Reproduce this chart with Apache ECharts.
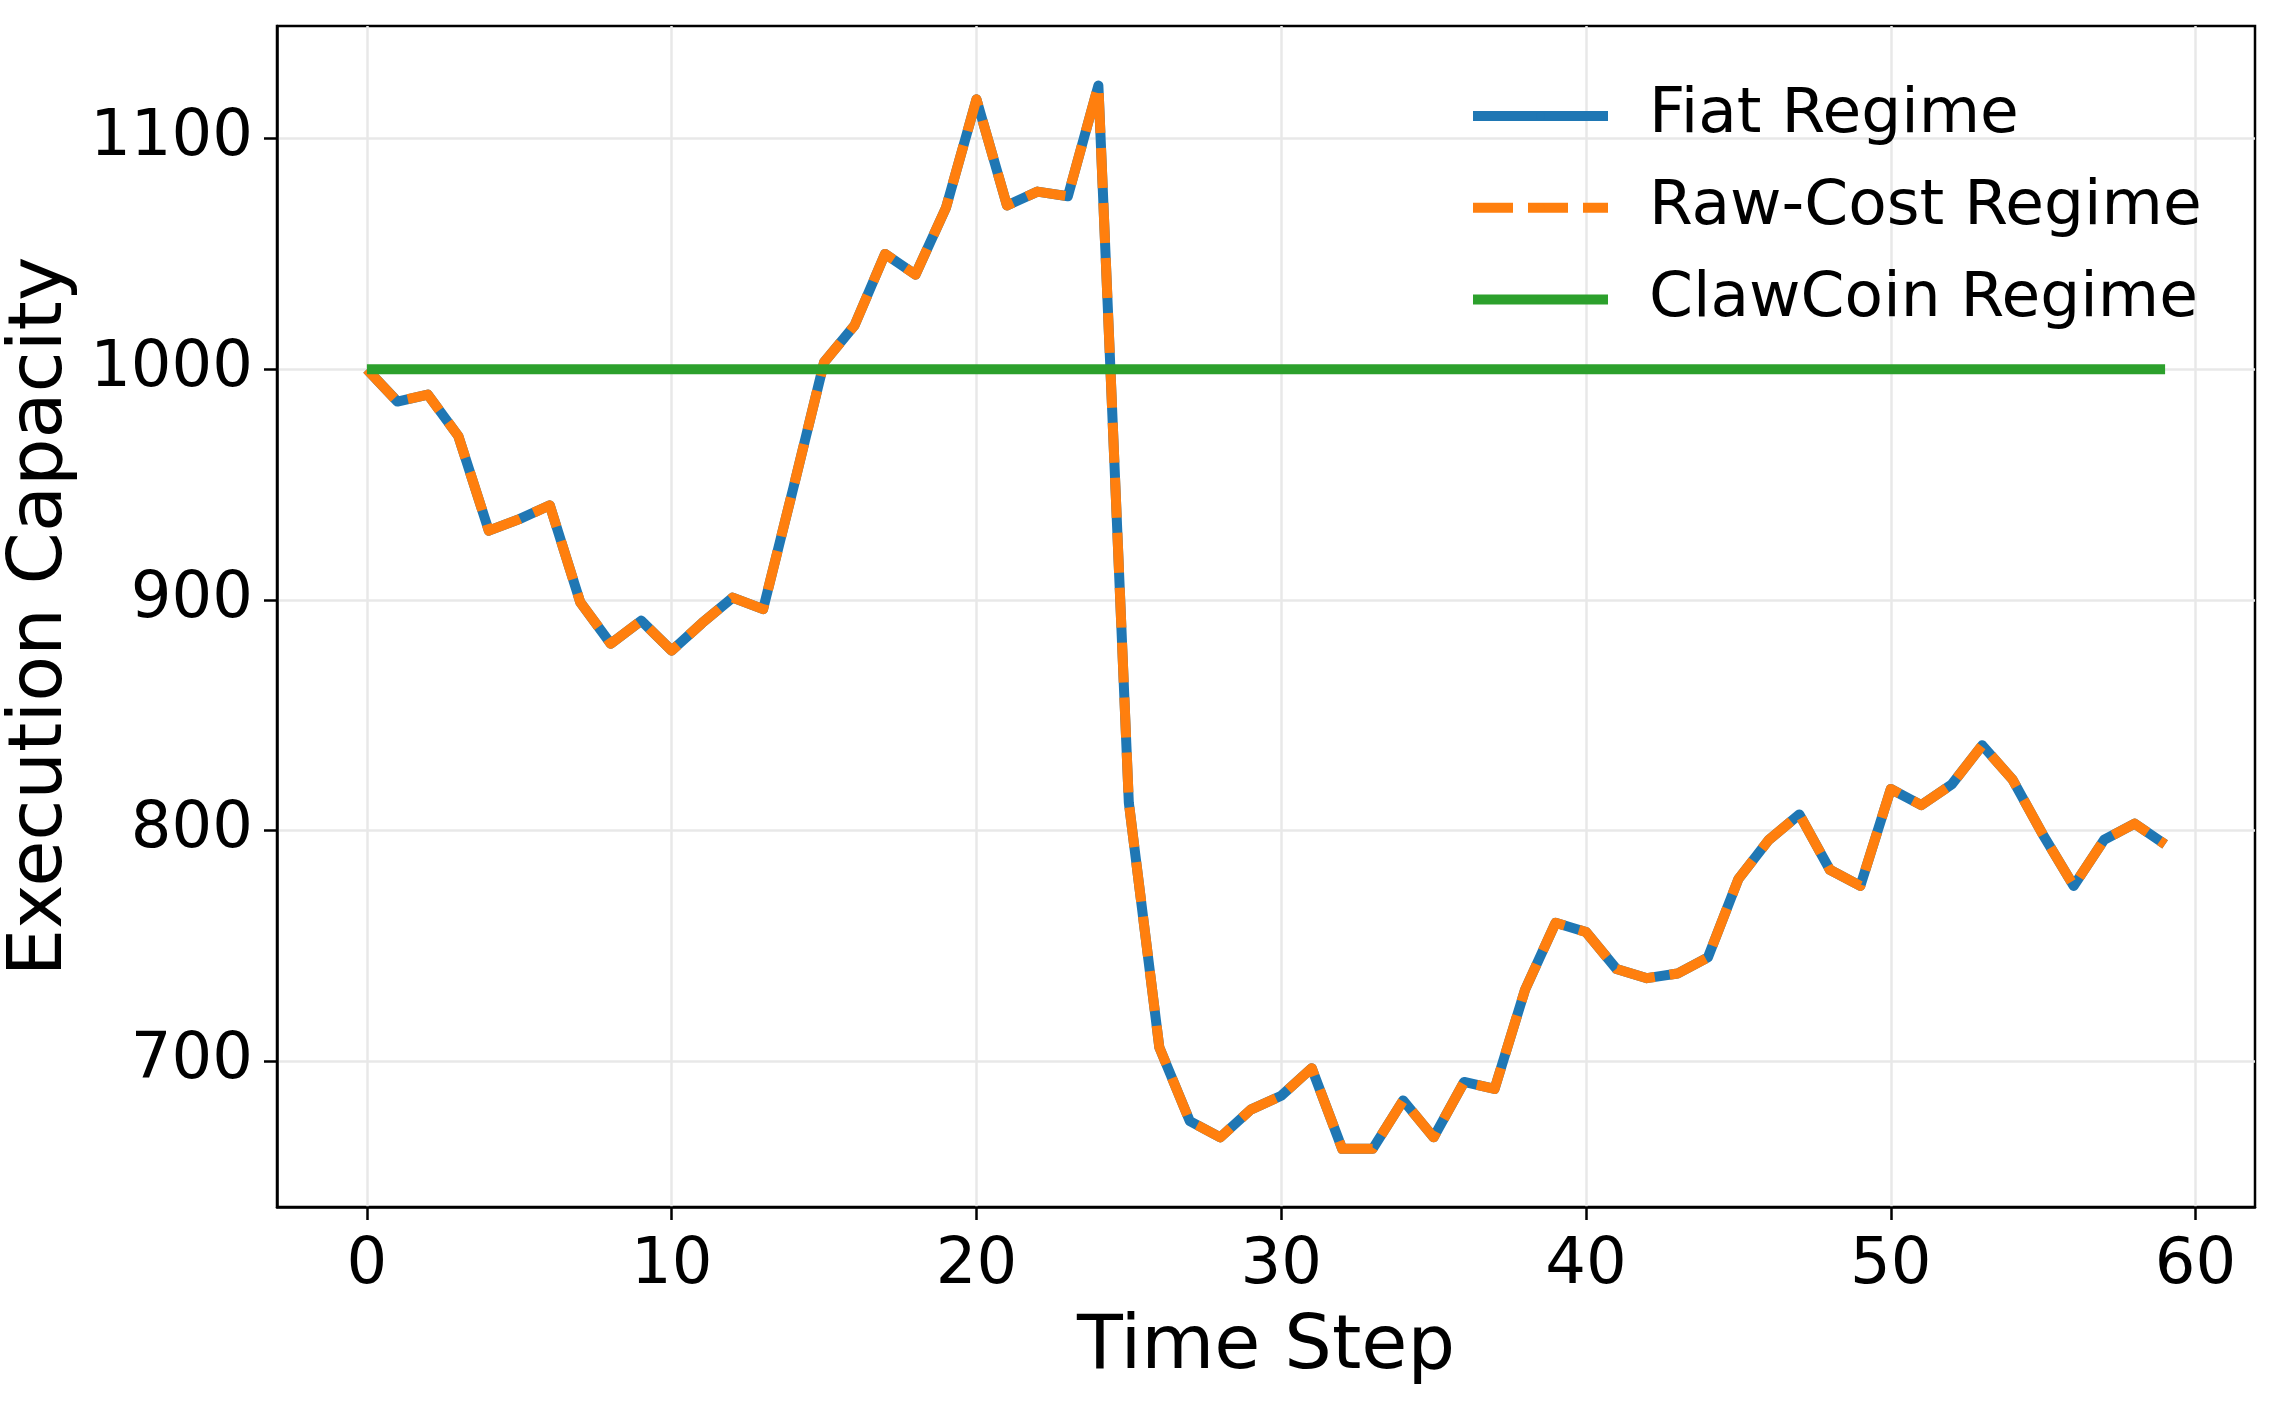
<!DOCTYPE html>
<html>
<head>
<meta charset="utf-8">
<script src="https://cdn.jsdelivr.net/npm/echarts@6.0.0/dist/echarts.min.js"></script>
<style>
html,body{margin:0;padding:0;background:#fff;}
#chart{width:2286px;height:1417px;}
</style>
</head>
<body>
<div id="chart"></div>
<script>
const steps = [0,1,2,3,4,5,6,7,8,9,10,11,12,13,14,15,16,17,18,19,20,21,22,23,24,25,26,27,28,29,30,31,32,33,34,35,36,37,38,39,40,41,42,43,44,45,46,47,48,49,50,51,52,53,54,55,56,57,58,59];
const fiatValues = [1000,986,989,971,930,935,941,899,881,891,878,890,901,896,949,1003,1019,1050,1041,1070,1117,1071,1077,1075,1123,812,706,674,667,679,685,697,662,662,683,667,691,688,731,760,756,740,736,738,745,779,796,807,783,776,818,811,820,837,822,798,776,796,803,794];
const rawCostValues = [1000,986,989,971,930,935,941,899,881,891,878,890,901,896,949,1003,1019,1050,1041,1070,1117,1071,1077,1075,1123,812,706,674,667,679,685,697,662,662,683,667,691,688,731,760,756,740,736,738,745,779,796,807,783,776,818,811,820,837,822,798,776,796,803,794];
const clawCoinValues = [1000,1000,1000,1000,1000,1000,1000,1000,1000,1000,1000,1000,1000,1000,1000,1000,1000,1000,1000,1000,1000,1000,1000,1000,1000,1000,1000,1000,1000,1000,1000,1000,1000,1000,1000,1000,1000,1000,1000,1000,1000,1000,1000,1000,1000,1000,1000,1000,1000,1000,1000,1000,1000,1000,1000,1000,1000,1000,1000,1000];
const seriesNames = ['Fiat Regime','Raw-Cost Regime','ClawCoin Regime'];
const xTicks = [0,10,20,30,40,50,60];
const yTicks = [700,800,900,1000,1100];
const xTitle = 'Time Step';
const yTitle = 'Execution Capacity';

const pairs = vals => steps.map((s,i) => [s, vals[i]]);
const FONT = 'DejaVu Sans';

const chart = echarts.init(document.getElementById('chart'), null, {renderer:'canvas'});
chart.setOption({
  animation: false,
  backgroundColor: '#ffffff',
  grid: {left: 277, top: 26, width: 1978, height: 1181, containLabel: false, outerBoundsMode: 'none',
         show: true, borderColor: '#000', borderWidth: 2.5, backgroundColor: 'transparent'},
  legend: {
    orient: 'vertical',
    left: 1468, top: 84, padding: 0,
    itemWidth: 135, itemHeight: 10, itemGap: 27.7,
    textStyle: {fontFamily: FONT, fontSize: 63, color: '#000', lineHeight: 64, padding: [0,0,0,36]},
    data: [
      {name: seriesNames[0], lineStyle: {width: 10, type: 'solid'}},
      {name: seriesNames[1], lineStyle: {width: 10, type: [40,15]}},
      {name: seriesNames[2], lineStyle: {width: 10, type: 'solid'}}
    ]
  },
  xAxis: {
    type: 'value', min: -2.95, max: 61.95,
    name: xTitle, nameLocation: 'middle', nameGap: 104,
    nameTextStyle: {fontFamily: FONT, fontSize: 75, color: '#000'},
    axisLine: {show: true, onZero: false, lineStyle: {color: '#000', width: 2.5}},
    axisTick: {show: true, length: 13, lineStyle: {color: '#000', width: 2.5}, customValues: xTicks},
    axisLabel: {fontFamily: FONT, fontSize: 64, color: '#000', margin: 27, customValues: xTicks, formatter: v => String(v)},
    splitLine: {show: true, lineStyle: {color: '#e8e8e8', width: 2.5}}
  },
  yAxis: {
    type: 'value', min: 636.8, max: 1148.8,
    name: yTitle, nameLocation: 'middle', nameGap: 188,
    nameTextStyle: {fontFamily: FONT, fontSize: 75, color: '#000'},
    axisLine: {show: true, onZero: false, lineStyle: {color: '#000', width: 2.5}},
    axisTick: {show: true, length: 13, lineStyle: {color: '#000', width: 2.5}, customValues: yTicks},
    axisLabel: {fontFamily: FONT, fontSize: 64, color: '#000', margin: 24, customValues: yTicks, formatter: v => String(v)},
    splitLine: {show: true, lineStyle: {color: '#e8e8e8', width: 2.5}}
  },
  series: [
    {name: seriesNames[0], type: 'line', data: pairs(fiatValues), symbol: 'none',
     lineStyle: {color: '#1f77b4', width: 10, join: 'round', cap: 'butt'}, itemStyle: {color: '#1f77b4'}},
    {name: seriesNames[1], type: 'line', data: pairs(rawCostValues), symbol: 'none',
     lineStyle: {color: '#ff7f0e', width: 10, type: [40,15], join: 'round', cap: 'butt'}, itemStyle: {color: '#ff7f0e'}},
    {name: seriesNames[2], type: 'line', data: pairs(clawCoinValues), symbol: 'none',
     lineStyle: {color: '#2ca02c', width: 10, join: 'round', cap: 'butt'}, itemStyle: {color: '#2ca02c'}}
  ]
});
</script>
</body>
</html>
